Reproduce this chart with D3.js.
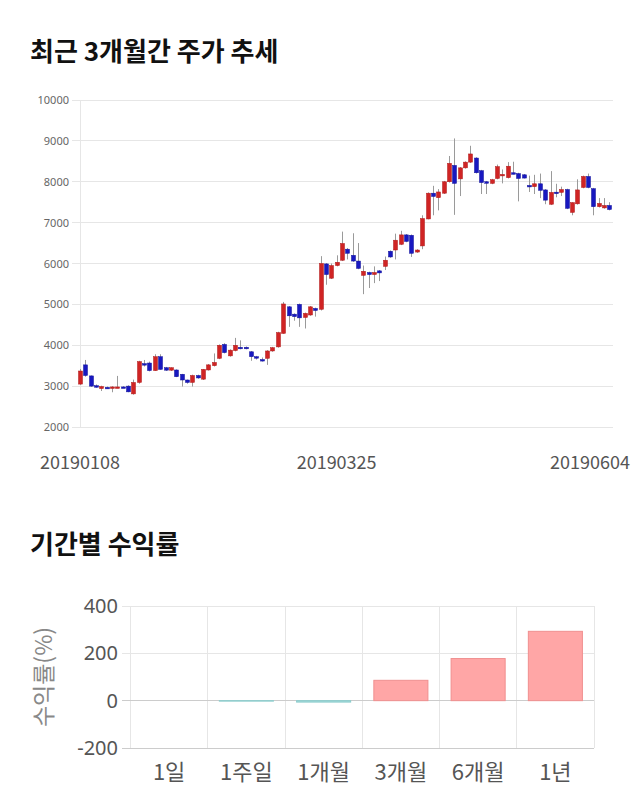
<!DOCTYPE html>
<html><head><meta charset="utf-8">
<script src="https://cdn.jsdelivr.net/npm/d3@7"></script>
<style>
html,body{margin:0;padding:0;background:#fff;}
svg{display:block;}
</style></head>
<body>
<svg id="c" width="640" height="810"></svg>
<script>
// ---- candlestick data (3 months, daily) ----
const openP  = [3050,3520,3250,3010,2940,2970,2950,2970,2980,3000,2810,3090,3550,3565,3380,3720,3450,3390,3395,3290,3150,3090,3260,3170,3395,3500,3680,4020,3740,3870,3950,3950,3840,3720,3650,3680,3860,3960,4290,4940,4760,5000,4680,4740,4900,4880,5990,5640,5950,6080,6350,6200,6060,5710,5780,5730,5820,5930,6300,6330,6470,6700,6690,6280,6430,7090,7720,7610,7720,8000,8400,8070,8340,8480,8580,8270,8000,7960,8080,8150,8100,8220,8200,8170,7910,7880,7950,7800,7450,7745,7740,7810,7250,7460,7860,8130,7830,7390,7360,7420];
const highP  = [3420,3640,3260,3040,3010,2990,3000,3250,3000,3020,3160,3620,3640,3600,3780,3780,3470,3460,3410,3300,3160,3280,3280,3420,3540,3800,4020,4050,3900,4180,4120,3970,3860,3740,3700,3880,3960,4330,5060,4960,4780,5020,4800,4960,4920,6180,6010,6000,6200,6780,6380,6740,6500,5950,5800,5930,5840,6170,6320,6730,6800,6720,6710,6350,7180,7740,7900,7820,8020,8630,9060,8360,8500,8880,8600,8290,8020,8070,8420,8300,8480,8490,8220,8190,8150,8170,8200,7820,8260,7950,7880,7830,7500,8060,8150,8200,7850,7600,7600,7500];
const lowP   = [3030,3230,2980,2960,2880,2940,2850,2950,2960,2850,2790,3060,3480,3360,3370,3400,3370,3370,3220,2990,3060,2990,3180,3150,3380,3480,3660,3800,3720,3850,3900,3900,3620,3650,3600,3520,3840,3940,4280,4450,4600,4450,4410,4720,4700,4850,5480,5620,5930,6060,6100,6040,5860,5250,5400,5520,5570,5840,6140,6100,6450,6520,6160,6260,6350,7080,7180,7300,7700,7980,7190,7650,8320,8460,8200,7700,7700,7940,8060,7960,8080,8180,7520,8080,7750,7700,7600,7450,7430,7620,7650,7330,7180,7440,7840,7840,7180,7370,7340,7300];
const closeP = [3370,3260,3000,2990,2990,2960,2980,2980,2970,2860,3090,3600,3540,3380,3720,3410,3390,3450,3230,3150,3090,3260,3200,3410,3520,3580,4000,3820,3880,4000,3920,3920,3720,3690,3640,3860,3940,4310,5010,4720,4700,4670,4780,4940,4850,6000,5730,5950,6030,6490,6250,6060,5880,5810,5730,5780,5770,6080,6160,6570,6700,6540,6250,6330,7100,7720,7640,7750,8000,8450,7960,8340,8480,8680,8220,7980,7980,8050,8370,8180,8380,8190,8080,8090,7900,7950,7790,7550,7740,7735,7810,7350,7490,7800,8130,7860,7390,7470,7420,7320];
const priceTicks = [2000,3000,4000,5000,6000,7000,8000,9000,10000];
const dateLabels = ["20190108","20190325","20190604"];
const dateLabelIdx = [0,48,99];

// ---- period returns ----
const periods = ["1일","1주일","1개월","3개월","6개월","1년"];
const returns = [0,-2,-6,86,178,293];
const returnTicks = [-200,0,200,400];

const svg = d3.select("#c");
const KR = "'Noto Sans CJK KR','Noto Sans',sans-serif";

// titles
svg.append("text").attr("x",30).attr("y",61).text("최근 3개월간 주가 추세")
  .attr("font-family",KR).attr("font-weight","bold").attr("font-size",26).attr("fill","#111");
svg.append("text").attr("x",30).attr("y",554).text("기간별 수익률")
  .attr("font-family",KR).attr("font-weight","bold").attr("font-size",26).attr("fill","#111");

// ---- top chart ----
const n = closeP.length;
const x = d3.scaleBand().domain(d3.range(n)).range([77.3,612]);
const cx = i => x(i) + x.bandwidth()/2;
const y = d3.scaleLinear().domain([2000,10000]).range([427,100]);
const gTop = svg.append("g");
gTop.selectAll("line.grid").data(priceTicks).join("line")
  .attr("x1",72).attr("x2",613).attr("y1",d=>y(d)).attr("y2",d=>y(d))
  .attr("stroke","#e6e6e6").attr("stroke-width",1).attr("shape-rendering","crispEdges");
gTop.append("line").attr("x1",80).attr("x2",80).attr("y1",y(10000)).attr("y2",y(2000))
  .attr("stroke","#e6e6e6").attr("shape-rendering","crispEdges");
gTop.selectAll("text.yt").data(priceTicks).join("text")
  .attr("x",69).attr("y",d=>y(d)+4).attr("text-anchor","end")
  .attr("font-family","'Noto Sans',sans-serif").attr("font-size",11).attr("fill","#666").text(d=>d);

const candles = gTop.selectAll("g.cd").data(d3.range(n)).join("g");
candles.append("line")
  .attr("x1",i=>Math.round(cx(i))+0.5).attr("x2",i=>Math.round(cx(i))+0.5)
  .attr("y1",i=>y(highP[i])).attr("y2",i=>y(lowP[i]))
  .attr("stroke","#9a9a9a").attr("stroke-width",1);
candles.append("rect")
  .attr("x",i=>Math.round(cx(i))-1.5).attr("width",4)
  .attr("y",i=>y(Math.max(openP[i],closeP[i])))
  .attr("height",i=>Math.max(1.5, Math.abs(y(openP[i])-y(closeP[i]))))
  .attr("fill",i=>closeP[i]>=openP[i]?"#d02424":"#1818c0")
  .attr("stroke",i=>closeP[i]>=openP[i]?"#b01818":"#10109a").attr("stroke-width",0.5);

gTop.selectAll("text.dt").data(dateLabels).join("text")
  .attr("x",(d,k)=>Math.min(cx(dateLabelIdx[k]), 590))
  .attr("y",469).attr("text-anchor","middle")
  .attr("font-family",KR).attr("font-size",18).attr("fill","#555").text(d=>d);

// ---- bottom chart ----
const bx = d3.scaleBand().domain(periods).range([130.5,594]).paddingInner(0.3).paddingOuter(0.15);
const by = d3.scaleLinear().domain([-200,400]).range([748,606]);
const gBot = svg.append("g");
const step = bx.step();
gBot.selectAll("line.vg").data(d3.range(periods.length+1)).join("line")
  .attr("x1",k=>130.5+k*step).attr("x2",k=>130.5+k*step)
  .attr("y1",by(400)).attr("y2",by(-200))
  .attr("stroke","#e6e6e6").attr("shape-rendering","crispEdges");
gBot.selectAll("line.hg").data(returnTicks).join("line")
  .attr("x1",122).attr("x2",594).attr("y1",d=>by(d)).attr("y2",d=>by(d))
  .attr("stroke",d=>(d===0||d===-200)?"#cccccc":"#e6e6e6").attr("shape-rendering","crispEdges");
gBot.selectAll("rect.b").data(periods).join("rect")
  .attr("x",d=>bx(d)).attr("width",bx.bandwidth())
  .attr("y",(d,k)=>by(Math.max(0,returns[k])))
  .attr("height",(d,k)=>Math.abs(by(returns[k])-by(0)))
  .attr("fill",(d,k)=>returns[k]>=0?"#ffa6a6":"#a8dede")
  .attr("stroke",(d,k)=>returns[k]>=0?"#f09090":"#8ccccc").attr("stroke-width",1);
gBot.selectAll("text.yt").data(returnTicks).join("text")
  .attr("x",118).attr("y",d=>by(d)+7).attr("text-anchor","end")
  .attr("font-family","'Noto Sans',sans-serif").attr("font-size",20).attr("fill","#555").text(d=>d);
gBot.selectAll("text.xt").data(periods).join("text")
  .attr("x",d=>bx(d)+bx.bandwidth()/2).attr("y",780).attr("text-anchor","middle")
  .attr("font-family",KR).attr("font-size",22).attr("fill","#555").text(d=>d);
gBot.append("text").attr("transform","translate(52,677) rotate(-90)")
  .attr("text-anchor","middle").attr("font-family",KR).attr("font-size",23).attr("fill","#888")
  .text("수익률(%)");
</script>
</body></html>
